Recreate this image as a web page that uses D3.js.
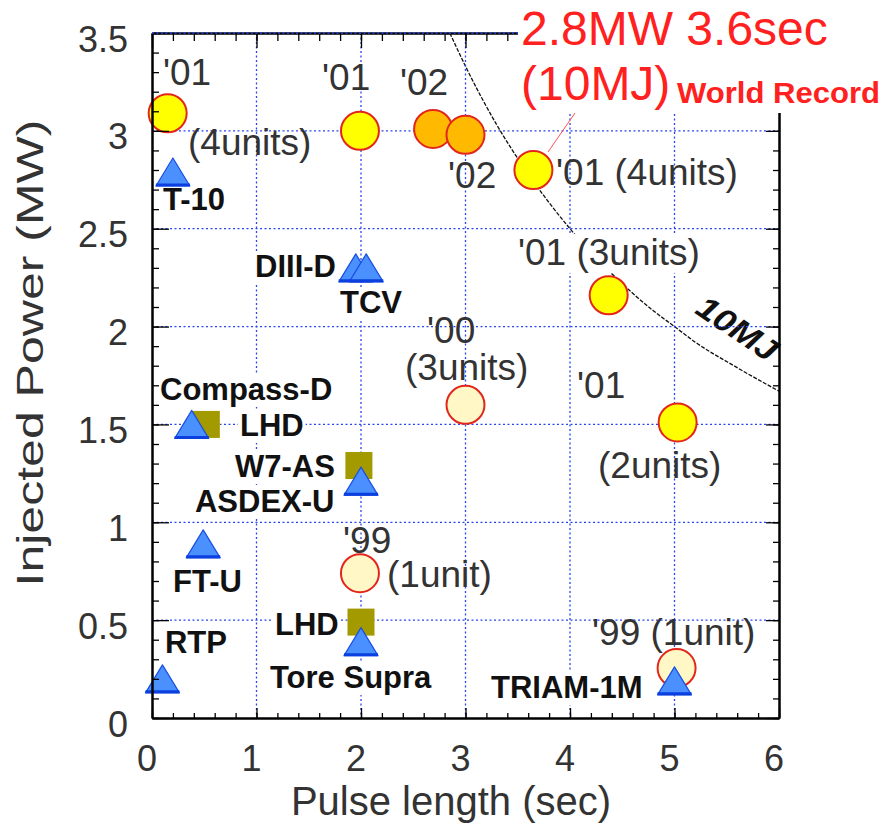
<!DOCTYPE html>
<html><head><meta charset="utf-8">
<script src="https://cdn.jsdelivr.net/npm/d3@7"></script>
<style>
body{margin:0;background:#fff}
text{font-family:"Liberation Sans",Arial,Helvetica,sans-serif}
</style>
</head><body>
<svg id="c" width="886" height="829"></svg>
<script>
// ---------- data ----------
const xTicks = [0, 1, 2, 3, 4, 5, 6];
const xTickLabels = ["0", "1", "2", "3", "4", "5", "6"];
const yTicks = [0, 0.5, 1, 1.5, 2, 2.5, 3, 3.5];
const yTickLabels = ["0", "0.5", "1", "1.5", "2", "2.5", "3", "3.5"];

// ECH results (circles): pulse length (s), power (MW)
const circlesYellow = [[0.15, 3.09], [1.99, 3.0], [3.65, 2.8], [4.37, 2.16], [5.03, 1.51]];
const circlesOrange = [[2.69, 3.01], [3.0, 2.98]];
const circlesPale   = [[3.0, 1.60], [1.99, 0.74], [5.02, 0.255]];

// Other devices
const triangles = [
  {name: "T-10", t: 0.2, p: 2.79},
  {name: "DIII-D", t: 1.95, p: 2.3},
  {name: "TCV", t: 2.05, p: 2.3},
  {name: "Compass-D", t: 0.38, p: 1.5},
  {name: "ASDEX-U", t: 2.0, p: 1.21},
  {name: "FT-U", t: 0.49, p: 0.89},
  {name: "Tore Supra", t: 2.0, p: 0.39},
  {name: "RTP", t: 0.1, p: 0.2},
  {name: "TRIAM-1M", t: 5.0, p: 0.19}
];
const squares = [
  {name: "LHD", t: 0.52, p: 1.5},
  {name: "W7-AS", t: 1.98, p: 1.29},
  {name: "LHD", t: 2.0, p: 0.49}
];

// 10 MJ line
const curve10MJ = [[2.85, 3.5], [3.0, 3.33], [3.3, 3.03], [3.6, 2.78], [4.0, 2.5], [4.4, 2.27],
                   [4.8, 2.08], [5.0, 2.0], [5.2, 1.92], [5.6, 1.79], [6.0, 1.67]];

// gray annotations (anchor in data coords)
const grayLabels = [
  ["'01", 0.105, 3.235], ["(4units)", 0.345, 2.877], ["'01", 1.627, 3.209],
  ["'02", 2.373, 3.183], ["'02", 2.833, 2.708], ["'01 (4units)", 3.866, 2.724],
  ["'01 (3units)", 3.502, 2.315, true], ["'00", 2.632, 1.916], ["(3units)", 2.421, 1.727],
  ["'01", 4.067, 1.635], ["(2units)", 4.268, 1.226], ["'99", 1.828, 0.843],
  ["(1unit)", 2.249, 0.669], ["'99 (1unit)", 4.211, 0.373]
];
// device names (bold)
const deviceLabels = [
  ["T-10", 0.105, 2.596], ["DIII-D", 0.986, 2.253], ["TCV", 1.799, 2.069],
  ["Compass-D", 0.077, 1.625], ["LHD", 0.842, 1.441], ["W7-AS", 0.794, 1.231],
  ["ASDEX-U", 0.411, 1.053], ["FT-U", 0.201, 0.644], ["LHD", 1.177, 0.424],
  ["RTP", 0.124, 0.332], ["Tore Supra", 1.129, 0.153], ["TRIAM-1M", 3.244, 0.102]
];

// ---------- drawing ----------
const svg = d3.select("#c");
const x = d3.scaleLinear([0, 6], [152, 779]);
const y = d3.scaleLinear([0, 3.5], [718, 33]);

const gCurve = svg.append("g");
const gHalo = svg.append("g");
const gGrid = svg.append("g");
const gBg = svg.append("g");
const gMarks = svg.append("g");
const gAxes = svg.append("g");
const gText = svg.append("g");
const gAnno = svg.append("g");

// 10MJ curve
gCurve.append("path")
  .datum(curve10MJ)
  .attr("d", d3.line().x(d => x(d[0])).y(d => y(d[1])).curve(d3.curveMonotoneX))
  .attr("fill", "none").attr("stroke", "#111").attr("stroke-width", 1.3)
  .attr("stroke-dasharray", "4,1.5");

// 10MJ label (halo hides curve)
const mjPos = [5.6, 1.99];
gHalo.append("text")
  .attr("transform", `translate(${x(mjPos[0])},${y(mjPos[1])}) rotate(34)`)
  .attr("text-anchor", "middle").attr("dominant-baseline", "central")
  .attr("font-size", 32).attr("font-style", "italic").attr("font-weight", "bold")
  .attr("textLength", 90).attr("lengthAdjust", "spacingAndGlyphs")
  .attr("fill", "#111").attr("stroke", "#fff").attr("stroke-width", 7)
  .attr("paint-order", "stroke").text("10MJ");

// grid
const gridStyle = sel => sel.attr("stroke", "#2846f0").attr("stroke-width", 1.3).attr("stroke-dasharray", "2,2.5");
gGrid.selectAll(".gx").data(xTicks.filter(v => v > 0 && v < 6)).join("line")
  .attr("x1", d => x(d)).attr("x2", d => x(d)).attr("y1", y(3.5)).attr("y2", y(0)).call(gridStyle);
gGrid.selectAll(".gy").data(yTicks.filter(v => v > 0 && v < 3.5)).join("line")
  .attr("y1", d => y(d)).attr("y2", d => y(d)).attr("x1", x(0)).attr("x2", x(6)).call(gridStyle);

// circles
const circStyle = (sel, fill) => sel.attr("r", 19).attr("fill", fill).attr("stroke", "#e3261b").attr("stroke-width", 2);
gMarks.selectAll(".cp").data(circlesPale).join("circle")
  .attr("cx", d => x(d[0])).attr("cy", d => y(d[1])).call(circStyle, "#fff8c6");
gMarks.selectAll(".cy").data(circlesYellow).join("circle")
  .attr("cx", d => x(d[0])).attr("cy", d => y(d[1])).call(circStyle, "#ffff00");
gMarks.selectAll(".co").data(circlesOrange).join("circle")
  .attr("cx", d => x(d[0])).attr("cy", d => y(d[1])).call(circStyle, "#ffba00");

// squares
const sq = 27;
gMarks.selectAll(".sq").data(squares).join("rect")
  .attr("x", d => x(d.t) - sq / 2).attr("y", d => y(d.p) - sq / 2)
  .attr("width", sq).attr("height", sq).attr("fill", "#a39a00");

// triangles
const tw = 17, th = 14;
const triG = gMarks.selectAll(".tri").data(triangles).join("g")
  .attr("transform", d => `translate(${x(d.t)},${y(d.p)})`);
triG.append("path")
  .attr("d", `M${-tw},${th}L0,${-th}L${tw},${th}Z`)
  .attr("fill", "#4a90ff").attr("stroke", "#1a4fe0").attr("stroke-width", 1.2).attr("stroke-linejoin", "round");
triG.append("line")
  .attr("x1", -tw).attr("x2", tw).attr("y1", th - 1).attr("y2", th - 1)
  .attr("stroke", "#0b3fe0").attr("stroke-width", 3);

// axes
const minorX = d3.range(0, 6.001, 0.2);
const minorY = d3.range(0, 3.501, 0.1);
function axisStyle(g) {
  g.select(".domain").attr("stroke", "#000").attr("stroke-width", 2);
  g.selectAll(".tick line").attr("stroke", "#000").attr("stroke-width", 1.3);
  g.selectAll(".tick text").remove();
}
gAxes.append("g").attr("transform", `translate(0,${y(0)})`)
  .call(d3.axisBottom(x).tickValues(minorX).tickSize(-5).tickSizeOuter(0).tickFormat("")).call(axisStyle);
gAxes.append("g").attr("transform", `translate(0,${y(0)})`)
  .call(d3.axisBottom(x).tickValues(xTicks).tickSize(-10).tickSizeOuter(0).tickFormat("")).call(axisStyle);
gAxes.append("g").attr("transform", `translate(0,${y(3.5)})`)
  .call(d3.axisTop(x).tickValues(minorX).tickSize(-8).tickSizeOuter(0).tickFormat("")).call(axisStyle);
gAxes.append("g").attr("transform", `translate(0,${y(3.5)})`)
  .call(d3.axisTop(x).tickValues(xTicks).tickSize(-15).tickSizeOuter(0).tickFormat("")).call(axisStyle);
gAxes.append("g").attr("transform", `translate(${x(0)},0)`)
  .call(d3.axisLeft(y).tickValues(minorY).tickSize(-7).tickSizeOuter(0).tickFormat("")).call(axisStyle);
gAxes.append("g").attr("transform", `translate(${x(0)},0)`)
  .call(d3.axisLeft(y).tickValues(yTicks).tickSize(-17).tickSizeOuter(0).tickFormat("")).call(axisStyle);
gAxes.append("g").attr("transform", `translate(${x(6)},0)`)
  .call(d3.axisRight(y).tickValues(minorY).tickSize(-6).tickSizeOuter(0).tickFormat("")).call(axisStyle);
gAxes.append("g").attr("transform", `translate(${x(6)},0)`)
  .call(d3.axisRight(y).tickValues(yTicks).tickSize(-13).tickSizeOuter(0).tickFormat("")).call(axisStyle);
// blue dots along top edge
gAxes.append("line").attr("x1", x(0)).attr("x2", x(6)).attr("y1", y(3.5)).attr("y2", y(3.5)).call(gridStyle);

// tick labels
gText.selectAll(".xl").data(xTicks).join("text")
  .attr("x", d => x(d) - 5).attr("y", 771).attr("text-anchor", "middle")
  .attr("font-size", 36).attr("fill", "#333").text((d, i) => xTickLabels[i]);
gText.selectAll(".yl").data(yTicks).join("text")
  .attr("x", 128).attr("y", d => y(d) + 6).attr("text-anchor", "end").attr("dominant-baseline", "central")
  .attr("font-size", 36).attr("fill", "#333").text((d, i) => yTickLabels[i]);

// axis titles
gText.append("text").attr("x", 451).attr("y", 815).attr("text-anchor", "middle")
  .attr("font-size", 40).attr("fill", "#333").text("Pulse length (sec)");
gText.append("text").attr("transform", "translate(43,353) rotate(-90)").attr("text-anchor", "middle")
  .attr("font-size", 36).attr("fill", "#333")
  .attr("textLength", 467).attr("lengthAdjust", "spacingAndGlyphs").text("Injected Power (MW)");

function addBg(node, pad) {
  const b = node.getBBox();
  gBg.append("rect").attr("x", b.x - pad).attr("y", b.y + 2).attr("width", b.width + 2 * pad)
    .attr("height", b.height - 2).attr("fill", "#fff");
}

// gray labels
grayLabels.forEach(d => {
  const t = gText.append("text").attr("x", x(d[1])).attr("y", y(d[2]))
    .attr("font-size", 37).attr("fill", "#333").text(d[0]);
  if (d[3]) addBg(t.node(), 2);
});
// device labels
deviceLabels.forEach(d => {
  const t = gText.append("text").attr("x", x(d[1])).attr("y", y(d[2]))
    .attr("font-size", 31).attr("font-weight", "bold").attr("fill", "#111").text(d[0]);
  addBg(t.node(), 2);
});

// record annotation
gAnno.append("rect").attr("x", 518).attr("y", 0).attr("width", 368).attr("height", 113).attr("fill", "#fff");
gAnno.append("line").attr("x1", 575).attr("y1", 113).attr("x2", 548).attr("y2", 152)
  .attr("stroke", "#ff5050").attr("stroke-width", 1);
gAnno.append("text").attr("x", 521).attr("y", 45).attr("font-size", 48).attr("fill", "#ff2020").text("2.8MW 3.6sec");
gAnno.append("text").attr("x", 521).attr("y", 100).attr("font-size", 48).attr("fill", "#ff2020").text("(10MJ)");
gAnno.append("text").attr("x", 677).attr("y", 103).attr("font-size", 30).attr("font-weight", "bold")
  .attr("fill", "#ff2020").attr("textLength", 203).attr("lengthAdjust", "spacingAndGlyphs").text("World Record");
</script>
</body></html>
